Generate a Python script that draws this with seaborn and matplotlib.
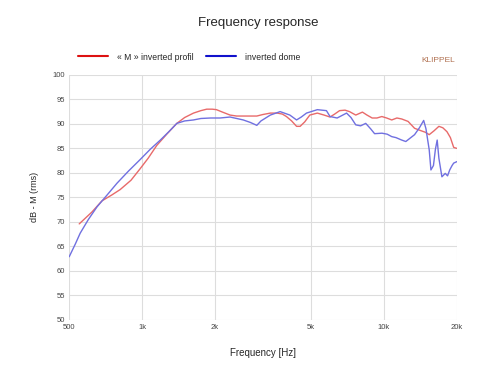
import numpy as np
import pandas as pd
import seaborn as sns
import matplotlib.pyplot as plt
from matplotlib.lines import Line2D

# values
red_freq = [550, 620, 683, 750, 812, 900, 980, 1060, 1150, 1270, 1392, 1500, 1631, 1750, 1850,
            1950, 2030, 2150, 2310, 2460, 2620, 2800, 2980, 3150, 3390, 3620, 3800, 3950, 4150,
            4350, 4500, 4700, 4935, 5300, 5650, 5980, 6250, 6550, 6900, 7200, 7640, 8140, 8500,
            8930, 9350, 9790, 10250, 10760, 11300, 11830, 12570, 13370, 14220, 14800, 15370,
            16100, 16850, 17500, 18200, 18800, 19400, 20000]
red_db = [69.6, 72.0, 74.3, 75.5, 76.6, 78.5, 80.8, 83.0, 85.6, 88.0, 90.1, 91.3, 92.2, 92.7, 93.0,
          93.0, 92.9, 92.4, 91.8, 91.6, 91.6, 91.6, 91.6, 91.9, 92.2, 92.2, 92.0, 91.5, 90.6,
          89.5, 89.5, 90.4, 91.8, 92.2, 91.8, 91.4, 92.0, 92.7, 92.8, 92.5, 91.8, 92.4, 91.8,
          91.2, 91.2, 91.5, 91.2, 90.8, 91.2, 91.0, 90.5, 89.1, 88.6, 88.3, 87.8,
          88.6, 89.5, 89.2, 88.4, 87.2, 85.2, 85.0]

blue_freq = [500, 530, 555, 600, 652, 720, 788, 880, 981, 1080, 1190, 1290, 1392, 1500, 1631,
             1750, 1918, 2100, 2310, 2460, 2620, 2800, 2980, 3100, 3390, 3720, 4080, 4350, 4550,
             4780, 5300, 5780, 5980, 6400, 7000, 7300, 7640, 8000, 8400, 8800, 9140, 9800,
             10300, 10760, 11200, 11830, 12300, 13370, 14000, 14580, 14900, 15370, 15620,
             16000, 16300, 16580, 16850, 17340, 17900, 18300, 18680, 19100, 19400, 20000]
blue_db = [62.9, 65.5, 67.7, 70.5, 73.1, 75.6, 77.9, 80.4, 82.7, 84.8, 86.7, 88.4, 90.1, 90.6, 90.8,
           91.1, 91.2, 91.2, 91.4, 91.1, 90.8, 90.3, 89.7, 90.6, 91.8, 92.5, 91.8, 90.8, 91.4,
           92.2, 92.9, 92.7, 91.5, 91.2, 92.2, 91.3, 89.8, 89.6, 90.1, 89.0, 88.0, 88.1,
           87.9, 87.4, 87.2, 86.7, 86.4, 87.8, 89.2, 90.7, 89.0, 84.7, 80.6,
           81.5, 84.8, 86.7, 83.0, 79.2, 79.9, 79.4, 80.6, 81.5, 82.0, 82.3]

label_red = "« M » inverted profil"
label_blue = "inverted dome"
x_ticks = [500, 1000, 2000, 5000, 10000, 20000]
x_tick_labels = ["500", "1k", "2k", "5k", "10k", "20k"]
y_ticks = list(range(50, 101, 5))

df = pd.concat([
    pd.DataFrame({"freq": red_freq, "db": red_db, "curve": label_red}),
    pd.DataFrame({"freq": blue_freq, "db": blue_db, "curve": label_blue}),
])

sns.set_style("white")
plt.rcParams['font.family'] = ['Liberation Sans', 'DejaVu Sans']

fig = plt.figure(figsize=(4.84, 3.80), dpi=100)
ax = fig.add_axes([0.143, 0.158, 0.801, 0.645])

sns.lineplot(data=df, x="freq", y="db", hue="curve", sort=False, estimator=None,
             palette={label_red: "#e86a6a", label_blue: "#7070e0"},
             linewidth=1.0, legend=False, ax=ax)

ax.set_xscale("log")
ax.set_xlim(500, 20000)
ax.set_ylim(50, 100)
ax.set_xticks(x_ticks)
ax.set_xticklabels(x_tick_labels)
ax.minorticks_off()
ax.set_yticks(y_ticks)
ax.grid(True, color="#dddddd", linewidth=0.8)
ax.tick_params(length=0, labelsize=5.5, colors="#444444", pad=3)
for s in ax.spines.values():
    s.set_visible(False)

ax.set_xlabel("Frequency [Hz]", fontsize=7, labelpad=12)
ax.set_ylabel("dB - M (rms)", fontsize=6.5, labelpad=10)

fig.text(0.533, 0.94, "Frequency response", ha="center", va="center", fontsize=9.5)
fig.text(0.94, 0.842, "KLIPPEL", ha="right", va="center", fontsize=6, color="#b07050")

handles = [Line2D([], [], color="#dd1111", lw=1.5), Line2D([], [], color="#1111cc", lw=1.5)]
fig.legend(handles, [label_red, label_blue], loc="center left", bbox_to_anchor=(0.145, 0.85),
           ncol=2, frameon=False, fontsize=6.2, handlelength=3.5, columnspacing=1.5,
           handletextpad=1.0)

fig.savefig("out.png", dpi=100)
